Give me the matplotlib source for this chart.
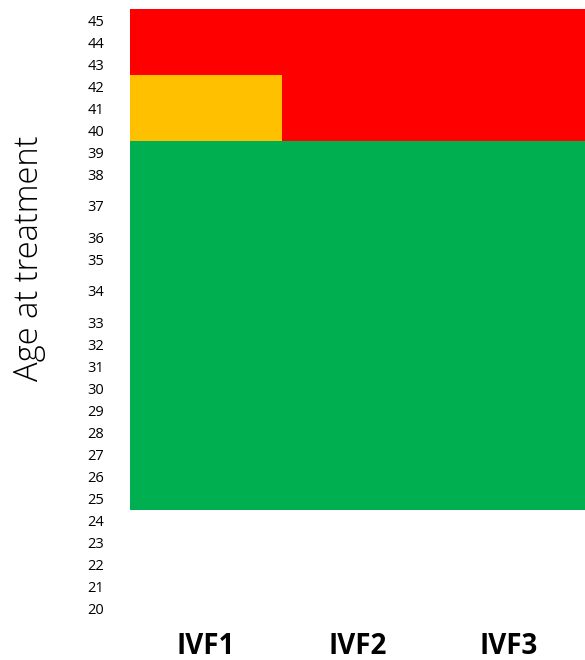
import matplotlib.pyplot as plt
import numpy as np

# data
ages = list(range(20, 46))
cycles = ["IVF1", "IVF2", "IVF3"]
band_from = [25, 40, 43]
band_to = [39, 42, 45]
risk = [
    ["low", "low", "low"],          # 25-39
    ["medium", "high", "high"],     # 40-42
    ["high", "high", "high"],       # 43-45
]
risk_colors = {"low": "#00B050", "medium": "#FFC000", "high": "#FF0000"}

# some rows in the sheet are taller than the rest
tall_rows = {37: 1.85, 34: 1.85}
heights = np.array([tall_rows.get(a, 1.0) for a in ages])
bottoms = np.concatenate([[0], np.cumsum(heights)[:-1]])
row_bottom = dict(zip(ages, bottoms))
row_top = dict(zip(ages, bottoms + heights))
centers = bottoms + heights / 2

plt.rcParams['font.family'] = ['Open Sans', 'DejaVu Sans']

W, H = 585, 660
fig = plt.figure(figsize=(W / 100, H / 100), dpi=100)
ax = fig.add_axes([130 / W, 1 - 620 / H, 1 - 130 / W, (620 - 9) / H])

for b, (lo, hi) in enumerate(zip(band_from, band_to)):
    for i, c in enumerate(cycles):
        ax.bar(i + 0.5, row_top[hi] - row_bottom[lo], bottom=row_bottom[lo],
               width=1.0, color=risk_colors[risk[b][i]], linewidth=0)

ax.set_xlim(0, len(cycles))
ax.set_ylim(0, bottoms[-1] + heights[-1])
ax.set_xticks(np.arange(len(cycles)) + 0.5)
ax.set_xticklabels(cycles, fontsize=20, fontweight='bold')
ax.set_yticks(centers)
ax.set_yticklabels([str(a) for a in ages], fontsize=10.5)
ax.tick_params(axis='x', length=0, pad=9)
ax.tick_params(axis='y', length=0, pad=18.5)
for s in ax.spines.values():
    s.set_visible(False)

fig.text(29 / W, 1 - 258 / H, "Age at treatment", rotation=90,
         fontsize=23.5, fontweight='light', ha='center', va='center')

fig.savefig("out.png", dpi=100)
